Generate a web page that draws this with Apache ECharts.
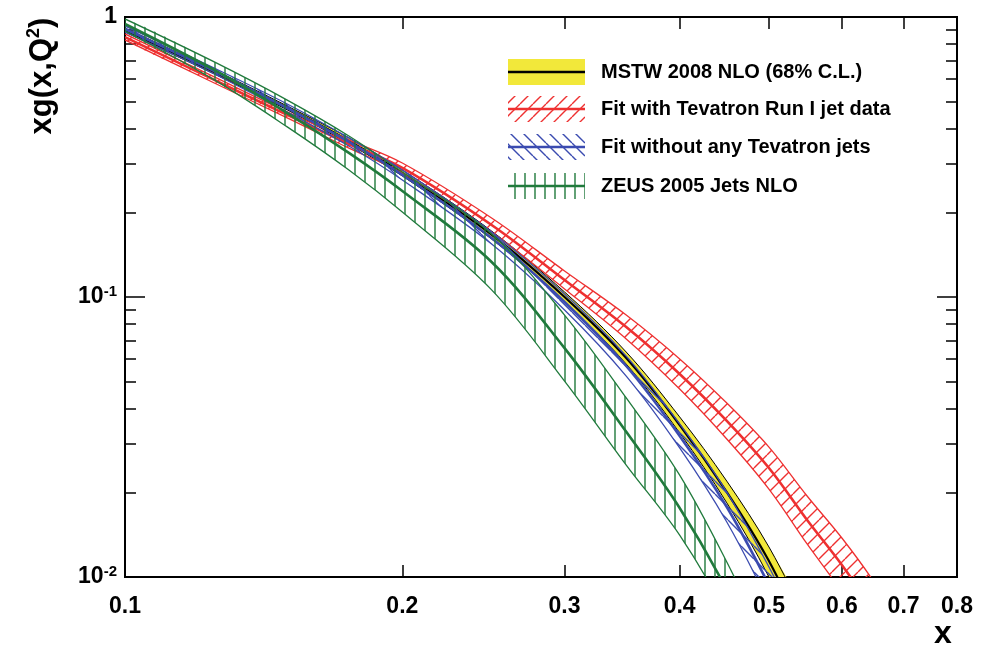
<!DOCTYPE html>
<html><head><meta charset="utf-8">
<script src="https://cdn.jsdelivr.net/npm/echarts@6/dist/echarts.min.js"></script>
<style>html,body{margin:0;padding:0;background:#fff}#c{width:990px;height:651px}</style>
</head><body><div id="c"></div>
<script>
// ---- tick values ----
const xTickValues = [0.1, 0.2, 0.3, 0.4, 0.5, 0.6, 0.7, 0.8];
const yMajorTicks = [0.01, 0.1, 1];
const yMinorTicks = [0.02, 0.03, 0.04, 0.05, 0.06, 0.07, 0.08, 0.09, 0.2, 0.3, 0.4, 0.5, 0.6, 0.7, 0.8, 0.9];

// ---- MSTW 2008 NLO (68% C.L.) ----
const xMstw = [0.1, 0.125, 0.15, 0.175, 0.2, 0.25, 0.3, 0.35, 0.4, 0.45, 0.5, 0.55];
const mstwCentral = [0.899, 0.636, 0.473, 0.361, 0.277, 0.167, 0.100, 0.0605, 0.0349, 0.0201, 0.0114, 0.00596];
const mstwUpper   = [0.913, 0.647, 0.481, 0.370, 0.284, 0.172, 0.1042, 0.0636, 0.0373, 0.0220, 0.0128, 0.00697];
const mstwLower   = [0.884, 0.626, 0.466, 0.352, 0.2705, 0.161, 0.0960, 0.0576, 0.0327, 0.0184, 0.0100, 0.00509];

// ---- Fit with Tevatron Run I jet data ----
const xRunI = [0.1, 0.125, 0.15, 0.175, 0.2, 0.25, 0.3, 0.35, 0.4, 0.45, 0.5, 0.55, 0.6, 0.65, 0.7];
const runICentral = [0.848, 0.596, 0.447, 0.352, 0.289, 0.1808, 0.1150, 0.0781, 0.0531, 0.0361, 0.0245, 0.01598, 0.01104, 0.0075, 0.00485];
const runIUpper   = [0.870, 0.611, 0.458, 0.364, 0.301, 0.1915, 0.1239, 0.0862, 0.0601, 0.0418, 0.0291, 0.01947, 0.01378, 0.00960, 0.00636];
const runILower   = [0.828, 0.581, 0.436, 0.340, 0.277, 0.1706, 0.1068, 0.0708, 0.0469, 0.0311, 0.0206, 0.01312, 0.00884, 0.00586, 0.00370];

// ---- Fit without any Tevatron jets ----
const xNoTev = [0.1, 0.125, 0.15, 0.175, 0.2, 0.25, 0.3, 0.35, 0.4, 0.45, 0.5, 0.55];
const noTevCentral = [0.906, 0.641, 0.473, 0.358, 0.273, 0.1624, 0.0960, 0.0567, 0.0319, 0.01778, 0.00936, 0.00485];
const noTevUpper   = [0.929, 0.657, 0.489, 0.370, 0.284, 0.1706, 0.1025, 0.0615, 0.0352, 0.0201, 0.01086, 0.00576];
const noTevLower   = [0.884, 0.626, 0.458, 0.346, 0.2618, 0.1546, 0.0899, 0.0522, 0.0289, 0.01572, 0.00807, 0.00408];

// ---- ZEUS 2005 Jets NLO ----
const xZeus = [0.1, 0.125, 0.15, 0.175, 0.2, 0.25, 0.3, 0.35, 0.4, 0.45, 0.5];
const zeusCentral = [0.944, 0.647, 0.454, 0.327, 0.239, 0.1334, 0.0657, 0.0330, 0.01764, 0.00899, 0.00429];
const zeusUpper   = [0.984, 0.691, 0.505, 0.376, 0.2795, 0.168, 0.0862, 0.0436, 0.0231, 0.01131, 0.00549];
const zeusLower   = [0.891, 0.596, 0.405, 0.284, 0.201, 0.106, 0.0501, 0.0251, 0.0141, 0.00731, 0.00349];

const legendNames = ['MSTW 2008 NLO (68% C.L.)', 'Fit with Tevatron Run I jet data', 'Fit without any Tevatron jets', 'ZEUS 2005 Jets NLO'];

const FONT = "'Liberation Sans', Arial, Helvetica, sans-serif";
const YELLOW = '#f2e83a', RED = '#ee3030', BLUE = '#3b4bb0', GREEN = '#207a3c';

function makeHatch(kind, color, size, lw) {
  const c = document.createElement('canvas');
  c.width = size; c.height = size;
  const g = c.getContext('2d');
  g.strokeStyle = color; g.lineWidth = lw;
  g.beginPath();
  if (kind === '/') {
    for (const o of [-size, 0, size]) { g.moveTo(o, size); g.lineTo(o + size, 0); }
  } else if (kind === '\\') {
    for (const o of [-size, 0, size]) { g.moveTo(o, 0); g.lineTo(o + size, size); }
  } else {
    g.moveTo(size / 2, 0); g.lineTo(size / 2, size);
  }
  g.stroke();
  return c;
}
const redHatch = makeHatch('/', RED, 13, 1.4);
const blueHatch = makeHatch('\\', BLUE, 13, 1.4);
const greenHatch = makeHatch('|', GREEN, 10, 1.4);

const SM = 0.35;
function band(name, xs, up, lo, mid, fill, edgeColor, edgeW, midColor, midW) {
  return {
    type: 'custom', name, clip: true, silent: true, animation: false,
    coordinateSystem: 'cartesian2d', xAxisIndex: 0, yAxisIndex: 0,
    data: [[xs[0], mid[0]]],
    renderItem: function (params, api) {
      const U = xs.map((x, i) => api.coord([x, up[i]]));
      const L = xs.map((x, i) => api.coord([x, lo[i]]));
      const M = xs.map((x, i) => api.coord([x, mid[i]]));
      const poly = U.concat(L.slice().reverse());
      return {
        type: 'group',
        children: [
          { type: 'polygon', shape: { points: poly, smooth: SM }, style: { fill: fill, stroke: 'none' } },
          { type: 'polyline', shape: { points: U, smooth: SM }, style: { fill: 'none', stroke: edgeColor, lineWidth: edgeW } },
          { type: 'polyline', shape: { points: L, smooth: SM }, style: { fill: 'none', stroke: edgeColor, lineWidth: edgeW } },
          { type: 'polyline', shape: { points: M, smooth: SM }, style: { fill: 'none', stroke: midColor, lineWidth: midW } }
        ]
      };
    }
  };
}

const chart = echarts.init(document.getElementById('c'), null, { renderer: 'canvas' });

const yLabelRich = {
  b: { fontSize: 23, fontWeight: 'bold', fontFamily: FONT, color: '#000', lineHeight: 26 },
  s: { fontSize: 15, fontWeight: 'bold', fontFamily: FONT, color: '#000', lineHeight: 15, verticalAlign: 'top' }
};
function yFmt(v) {
  const e = Math.round(Math.log10(v));
  if (e === 0) return '{b|1}';
  return '{b|10}{s|' + e + '}';
}

const baseX = { type: 'log', logBase: 10, min: 0.1, max: 0.8, splitLine: { show: false }, minorTick: { show: false } };
const baseY = { type: 'log', logBase: 10, min: 0.01, max: 1, splitLine: { show: false }, minorTick: { show: false } };

const legendRows = [
  { y: 72, fill: YELLOW, line: '#000' },
  { y: 109, fill: { image: redHatch, repeat: 'repeat' }, line: RED },
  { y: 147, fill: { image: blueHatch, repeat: 'repeat' }, line: BLUE },
  { y: 186, fill: { image: greenHatch, repeat: 'repeat' }, line: GREEN }
];
const legendGraphics = [];
legendRows.forEach((r, i) => {
  legendGraphics.push({ type: 'rect', silent: true, shape: { x: 508, y: r.y - 13, width: 77, height: 26 }, style: { fill: r.fill } });
  legendGraphics.push({ type: 'line', silent: true, shape: { x1: 508, y1: r.y, x2: 585, y2: r.y }, style: { stroke: r.line, lineWidth: 2.5 } });
  legendGraphics.push({ type: 'text', silent: true, x: 601, y: r.y, style: { text: legendNames[i], fontSize: 20, fontWeight: 'bold', fontFamily: FONT, fill: '#000', align: 'left', verticalAlign: 'middle' } });
});

chart.setOption({
  animation: false,
  backgroundColor: '#fff',
  grid: { left: 125, top: 17, right: 33, bottom: 74, show: true, borderColor: '#000', borderWidth: 2, backgroundColor: 'transparent' },
  xAxis: [
    Object.assign({}, baseX, {
      position: 'bottom',
      axisLine: { show: true, lineStyle: { color: '#000', width: 2 } },
      axisTick: { show: true, inside: true, length: 12, customValues: xTickValues, lineStyle: { color: '#000', width: 1.5 } },
      axisLabel: { show: true, customValues: xTickValues, margin: 18, fontSize: 23, fontWeight: 'bold', fontFamily: FONT, color: '#000',
        formatter: v => (Math.round(v * 10) / 10).toFixed(1) }
    }),
    Object.assign({}, baseX, {
      position: 'top',
      axisLine: { show: true, lineStyle: { color: '#000', width: 2 } },
      axisTick: { show: true, inside: true, length: 12, customValues: xTickValues, lineStyle: { color: '#000', width: 1.5 } },
      axisLabel: { show: false }
    })
  ],
  yAxis: [
    Object.assign({}, baseY, {
      position: 'left',
      axisLine: { show: true, lineStyle: { color: '#000', width: 2 } },
      axisTick: { show: true, inside: true, length: 20, customValues: yMajorTicks, lineStyle: { color: '#000', width: 1.5 } },
      axisLabel: { show: true, customValues: yMajorTicks, margin: 8, formatter: yFmt, rich: yLabelRich }
    }),
    Object.assign({}, baseY, {
      position: 'left', offset: 0,
      axisLine: { show: false },
      axisTick: { show: true, inside: true, length: 11, customValues: yMinorTicks, lineStyle: { color: '#000', width: 1.5 } },
      axisLabel: { show: false }
    }),
    Object.assign({}, baseY, {
      position: 'right', offset: 0,
      axisLine: { show: true, lineStyle: { color: '#000', width: 2 } },
      axisTick: { show: true, inside: true, length: 20, customValues: yMajorTicks, lineStyle: { color: '#000', width: 1.5 } },
      axisLabel: { show: false }
    }),
    Object.assign({}, baseY, {
      position: 'right', offset: 0,
      axisLine: { show: false },
      axisTick: { show: true, inside: true, length: 11, customValues: yMinorTicks, lineStyle: { color: '#000', width: 1.5 } },
      axisLabel: { show: false }
    })
  ],
  series: [
    band(legendNames[0], xMstw, mstwUpper, mstwLower, mstwCentral, YELLOW, '#000', 1, '#000', 2.2),
    band(legendNames[1], xRunI, runIUpper, runILower, runICentral, { image: redHatch, repeat: 'repeat' }, RED, 1.3, RED, 2.6),
    band(legendNames[2], xNoTev, noTevUpper, noTevLower, noTevCentral, { image: blueHatch, repeat: 'repeat' }, BLUE, 1.3, BLUE, 2.6),
    band(legendNames[3], xZeus, zeusUpper, zeusLower, zeusCentral, { image: greenHatch, repeat: 'repeat' }, GREEN, 1.3, GREEN, 2.6)
  ],
  graphic: [
    { type: 'text', silent: true, x: 42, y: 76, rotation: Math.PI / 2,
      style: { text: '{a|xg(x,Q}{s|2}{a|)}', align: 'center', verticalAlign: 'middle',
        rich: { a: { fontSize: 31, fontWeight: 'bold', fontFamily: FONT, fill: '#000', lineHeight: 34 },
                s: { fontSize: 18, fontWeight: 'bold', fontFamily: FONT, fill: '#000', lineHeight: 18, verticalAlign: 'top' } } } },
    { type: 'text', silent: true, x: 943, y: 634,
      style: { text: 'x', fontSize: 32, fontWeight: 'bold', fontFamily: FONT, fill: '#000', align: 'center', verticalAlign: 'middle' } }
  ].concat(legendGraphics)
});
</script>
</body></html>
